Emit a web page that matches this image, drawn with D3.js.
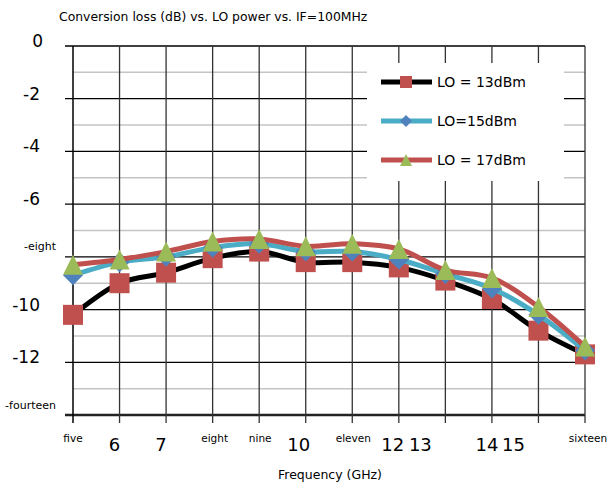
<!doctype html>
<html lang="en">
<head>
    <meta charset="utf-8">
    <title>Conversion loss vs LO power</title>
    <script src="https://cdnjs.cloudflare.com/ajax/libs/d3/7.8.5/d3.min.js"></script>
    <style>
        body { margin: 0; background: #fff; }
        svg text { font-family: "DejaVu Sans", sans-serif; fill: #000; }
    </style>
</head>
<body>
    <div id="chart"></div>
    <script>
        // data
        var categories = [5, 6, 7, 8, 9, 10, 11, 12, 13, 14, 15, 16];
        var xLabels = ["five", "6", "7", "eight", "nine", "10", "eleven", "12", "13", "14", "15", "sixteen"];
        var lo13 = [-10.2, -9.0, -8.6, -8.05, -7.8, -8.2, -8.2, -8.4, -8.9, -9.6, -10.8, -11.7];
        var lo15 = [-8.7, -8.2, -8.0, -7.65, -7.5, -7.8, -7.8, -8.1, -8.65, -9.2, -10.2, -11.55];
        var lo17 = [-8.3, -8.1, -7.8, -7.42, -7.32, -7.6, -7.5, -7.7, -8.5, -8.8, -9.9, -11.4];
        var yTicks = [0, -2, -4, -6, -8, -10, -12, -14];
        var yLabels = ["0", "-2", "-4", "-6", "-eight", "-10", "-12", "-fourteen"];
        var seriesNames = ["LO = 13dBm", "LO=15dBm", "LO = 17dBm"];

        // the x labels sit a little off their ticks in the original
        var xLabelShift = [0, -5, -5, 2, 1, -7, 1, -6, -25, -5, -25, 3];

        var width = 608, height = 485;
        var plotLeft = 73, plotRight = 585, plotTop = 46, plotBottom = 415;

        var svg = d3.select('#chart')
            .append('svg')
            .attr('width', width)
            .attr('height', height);

        var x = d3.scalePoint().domain(categories).range([plotLeft, plotRight]).padding(0);
        var y = d3.scaleLinear().domain([-14, 0]).range([plotBottom, plotTop]);

        var isWord = function(s) { return !/^-?\d/.test(s); };

        // minor gridlines
        svg.append('g').selectAll('line')
            .data(d3.range(-13, 0, 2))
            .enter().append('line')
            .attr('x1', plotLeft).attr('x2', plotRight)
            .attr('y1', function(d) { return y(d); })
            .attr('y2', function(d) { return y(d); })
            .attr('stroke', '#c4c4c4').attr('stroke-width', 1.5);

        // major gridlines with tick stubs
        svg.append('g').selectAll('line')
            .data(yTicks)
            .enter().append('line')
            .attr('x1', plotLeft - 8).attr('x2', plotRight)
            .attr('y1', function(d) { return y(d); })
            .attr('y2', function(d) { return y(d); })
            .attr('stroke', function(d) { return d === -14 ? '#222' : '#000'; })
            .attr('stroke-width', function(d) { return d === -14 ? 2.5 : 1.3; });

        // vertical gridlines
        svg.append('g').selectAll('line')
            .data(categories)
            .enter().append('line')
            .attr('x1', function(d) { return x(d); })
            .attr('x2', function(d) { return x(d); })
            .attr('y1', plotTop).attr('y2', plotBottom + 8)
            .attr('stroke', function(d, i) { return i === 0 ? '#000' : '#333'; })
            .attr('stroke-width', function(d, i) { return i === 0 ? 1.5 : 1.3; });

        // y labels
        svg.append('g').selectAll('text')
            .data(yTicks)
            .enter().append('text')
            .attr('text-anchor', 'end')
            .attr('dominant-baseline', 'central')
            .attr('x', function(d, i) { return isWord(yLabels[i]) ? 56 : (d === 0 ? 43 : 40); })
            .attr('y', function(d, i) { return y(d) - (isWord(yLabels[i]) ? 10 : 5); })
            .style('font-size', function(d, i) { return isWord(yLabels[i]) ? '11px' : '17px'; })
            .text(function(d, i) { return yLabels[i]; });

        // x labels
        svg.append('g').selectAll('text')
            .data(categories)
            .enter().append('text')
            .attr('text-anchor', 'middle')
            .attr('dominant-baseline', 'central')
            .attr('x', function(d, i) { return x(d) + xLabelShift[i]; })
            .attr('y', function(d, i) { return isWord(xLabels[i]) ? 438 : 444; })
            .style('font-size', function(d, i) { return isWord(xLabels[i]) ? '10.5px' : '18px'; })
            .text(function(d, i) { return xLabels[i]; });

        // titles
        svg.append('text')
            .attr('x', 59).attr('y', 16)
            .attr('dominant-baseline', 'central')
            .style('font-size', '12.4px')
            .text('Conversion loss (dB) vs. LO power vs. IF=100MHz');

        svg.append('text')
            .attr('x', (plotLeft + plotRight) / 2 + 1).attr('y', 474)
            .attr('text-anchor', 'middle')
            .attr('dominant-baseline', 'central')
            .style('font-size', '12.5px')
            .text('Frequency (GHz)');

        // legend box hides the grid behind it
        svg.append('rect')
            .attr('x', 367).attr('y', 63)
            .attr('width', 197).attr('height', 118)
            .attr('fill', '#fff');

        var series = [
            { name: seriesNames[0], values: lo13, line: '#000000', marker: 'square', fill: '#c0504d' },
            { name: seriesNames[1], values: lo15, line: '#4bacc6', marker: 'diamond', fill: '#4f81bd' },
            { name: seriesNames[2], values: lo17, line: '#c0504d', marker: 'triangle', fill: '#9bbb59' }
        ];

        function markerPath(kind) {
            if (kind === 'square') return 'M-10,-10H10V10H-10Z';
            if (kind === 'diamond') return 'M0,-10L10,0L0,10L-10,0Z';
            return 'M0,-10L10,10H-10Z';
        }

        var line = d3.line()
            .x(function(d, i) { return x(categories[i]); })
            .y(function(d) { return y(d); })
            .curve(d3.curveCatmullRom.alpha(0.5));

        series.forEach(function(s) {
            svg.append('path')
                .datum(s.values)
                .attr('d', line)
                .attr('fill', 'none')
                .attr('stroke', s.line)
                .attr('stroke-width', 5);

            svg.append('g').selectAll('path')
                .data(s.values)
                .enter().append('path')
                .attr('transform', function(d, i) {
                    return 'translate(' + x(categories[i]) + ',' + y(d) + ')';
                })
                .attr('d', markerPath(s.marker))
                .attr('fill', s.fill);
        });

        // legend entries
        var legend = svg.append('g').selectAll('g')
            .data(series)
            .enter().append('g')
            .attr('transform', function(d, i) { return 'translate(381,' + (82 + i * 39) + ')'; });

        legend.append('line')
            .attr('x1', 0).attr('x2', 51)
            .attr('stroke', function(d) { return d.line; })
            .attr('stroke-width', 5);

        legend.append('path')
            .attr('transform', 'translate(25,0) scale(0.6)')
            .attr('d', function(d) { return markerPath(d.marker); })
            .attr('fill', function(d) { return d.fill; });

        legend.append('text')
            .attr('x', 56)
            .attr('dominant-baseline', 'central')
            .style('font-size', '14px')
            .text(function(d) { return d.name; });
    </script>
</body>
</html>
